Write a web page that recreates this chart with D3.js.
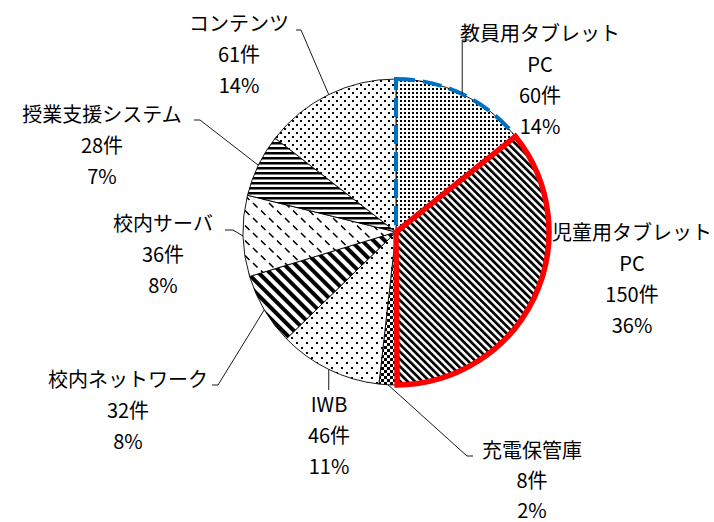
<!DOCTYPE html>
<html lang="ja">
<head>
<meta charset="utf-8">
<script src="https://cdn.jsdelivr.net/npm/d3@7"></script>
<style>
  html, body { margin: 0; padding: 0; background: #fff; }
  svg { display: block; }
  text { font-family: "Noto Sans CJK JP", "Noto Sans", sans-serif; fill: #000; }
</style>
</head>
<body>
<svg id="chart" width="714" height="522"></svg>
<script>
// Categories (clockwise from 12 o'clock), counts and printed percentages
const categories = [
  ["教員用タブレット", "PC"],
  ["児童用タブレット", "PC"],
  ["充電保管庫"],
  ["IWB"],
  ["校内ネットワーク"],
  ["校内サーバ"],
  ["授業支援システム"],
  ["コンテンツ"]
];
const counts = [60, 150, 8, 46, 32, 36, 28, 61];
const percentLabels = [14, 36, 2, 11, 8, 8, 7, 14];

// Label placement: text centre x, first line centre y, leader elbow and end (null = no leader)
const labelLayout = [
  { x: 540, y: 32,  elbow: "up",   ey: 40,  dx: 7 },
  { x: 632, y: 231, elbow: null },
  { x: 532, y: 449, elbow: [467, 456], end: [473, 456] },
  { x: 329, y: 403, elbow: "down", ey: 390 },
  { x: 128, y: 378, elbow: [218, 385], end: [212, 385] },
  { x: 163, y: 222, elbow: [233, 230], end: [225, 230] },
  { x: 102, y: 113, elbow: [200, 120], end: [194, 120] },
  { x: 239, y: 22,  elbow: [301, 30],  end: [296, 30] }
];
const lineGaps = [31, 31, 30, 31, 31, 31, 31, 31];

const svg = d3.select("#chart");
svg.append("rect").attr("width", 714).attr("height", 522).attr("fill", "#fff");

const cx = 396, cy = 232, R = 153;
const defs = svg.append("defs");

function makePattern(id, w, h, transform) {
  const p = defs.append("pattern")
    .attr("id", id)
    .attr("patternUnits", "userSpaceOnUse")
    .attr("width", w).attr("height", h);
  if (transform) p.attr("patternTransform", transform);
  p.append("rect").attr("width", w).attr("height", h).attr("fill", "#fff");
  return p;
}

// fine dot grid
makePattern("pDenseDots", 4, 4)
  .append("rect").attr("width", 2).attr("height", 2).attr("fill", "#000");

// dark downward diagonal
makePattern("pDarkDiag", 5.2, 5.2, "rotate(-45)")
  .append("rect").attr("width", 2.7).attr("height", 5.2).attr("fill", "#000");

// small checkerboard
{
  const p = makePattern("pChecker", 6, 6);
  p.append("rect").attr("width", 3).attr("height", 3).attr("fill", "#000");
  p.append("rect").attr("x", 3).attr("y", 3).attr("width", 3).attr("height", 3).attr("fill", "#000");
}

// sparse staggered dots
{
  const p = makePattern("pSparseDots", 10, 10);
  p.append("rect").attr("width", 2).attr("height", 2).attr("fill", "#000");
  p.append("rect").attr("x", 5).attr("y", 5).attr("width", 2).attr("height", 2).attr("fill", "#000");
}

// wide downward diagonal
makePattern("pWideDiag", 8, 8, "rotate(-45)")
  .append("rect").attr("width", 4).attr("height", 8).attr("fill", "#000");

// dashed downward diagonal
{
  const p = makePattern("pDashDiag", 16, 15);
  p.append("path").attr("d", "M1,1 L5.5,5.5 M9,8.5 L13.5,13")
    .attr("stroke", "#000").attr("stroke-width", 1.6).attr("fill", "none");
}

// dark horizontal
makePattern("pHoriz", 5, 5)
  .append("rect").attr("width", 5).attr("height", 2.5).attr("fill", "#000");

// medium staggered dots
{
  const p = makePattern("pMedDots", 8, 8);
  p.append("rect").attr("width", 2).attr("height", 2).attr("fill", "#000");
  p.append("rect").attr("x", 4).attr("y", 4).attr("width", 2).attr("height", 2).attr("fill", "#000");
}

const fills = ["pDenseDots", "pDarkDiag", "pChecker", "pSparseDots",
               "pWideDiag", "pDashDiag", "pHoriz", "pMedDots"];

const pie = d3.pie().sort(null).value(d => d);
const arcs = pie(counts);
const arc = d3.arc().innerRadius(0).outerRadius(R);

const g = svg.append("g").attr("transform", `translate(${cx},${cy})`);

g.selectAll("path.slice")
  .data(arcs)
  .join("path")
  .attr("class", "slice")
  .attr("d", arc)
  .attr("fill", (d, i) => `url(#${fills[i]})`)
  .attr("stroke", "#000")
  .attr("stroke-width", 0.9)
  .attr("stroke-linejoin", "round");

// highlighted outlines
g.append("path")
  .attr("d", arc(arcs[0]))
  .attr("fill", "none")
  .attr("stroke", "#0070C0")
  .attr("stroke-width", 4)
  .attr("stroke-dasharray", "19 8");

g.append("path")
  .attr("d", arc(arcs[1]))
  .attr("fill", "none")
  .attr("stroke", "#FF0000")
  .attr("stroke-width", 5.5)
  .attr("stroke-linejoin", "miter");

// leader lines
function edgePoint(d) {
  const a = (d.startAngle + d.endAngle) / 2;
  return [cx + R * Math.sin(a), cy - R * Math.cos(a)];
}

const leaders = svg.append("g")
  .attr("fill", "none")
  .attr("stroke", "#000")
  .attr("stroke-width", 0.9);

arcs.forEach((d, i) => {
  const L = labelLayout[i];
  if (!L.elbow) return;
  const p = edgePoint(d);
  let pts;
  if (L.elbow === "up") {
    pts = [p, [p[0], L.ey], [p[0] + L.dx, L.ey]];
  } else if (L.elbow === "down") {
    pts = [p, [p[0], L.ey]];
  } else {
    pts = [p, L.elbow, L.end];
  }
  leaders.append("path").attr("d", d3.line()(pts));
});

// labels
arcs.forEach((d, i) => {
  const L = labelLayout[i];
  const lines = [...categories[i], `${counts[i]}件`, `${percentLabels[i]}%`];
  const t = svg.append("text")
    .attr("text-anchor", "middle")
    .attr("font-size", 20);
  lines.forEach((s, k) => {
    t.append("tspan")
      .attr("x", L.x)
      .attr("y", L.y + k * lineGaps[i])
      .attr("dominant-baseline", "central")
      .text(s);
  });
});
</script>
</body>
</html>
